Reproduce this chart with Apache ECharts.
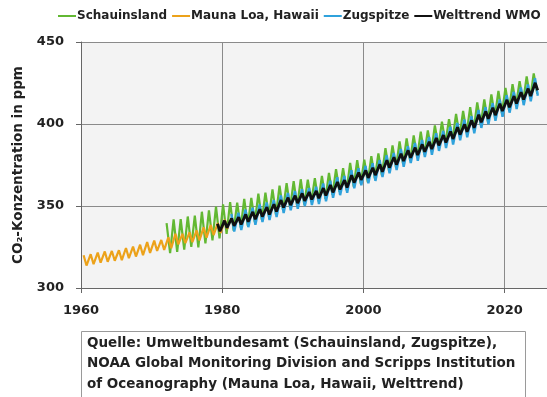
<!DOCTYPE html>
<html>
<head>
<meta charset="utf-8">
<style>
  html, body { margin: 0; padding: 0; background: #ffffff; }
  #chart { width: 547px; height: 397px; }
</style>
<script src="https://cdn.jsdelivr.net/npm/echarts@6/dist/echarts.min.js"></script>
</head>
<body>
<div id="chart"></div>
<script>
// CO2 concentration (ppm): yearly seasonal maxima and minima per station

const seriesNames = ['Schauinsland', 'Mauna Loa, Hawaii', 'Zugspitze', 'Welttrend WMO'];

const xTicks = [1960, 1980, 2000, 2020];
const yTicks = [300, 350, 400, 450];

// Mauna Loa, 1960–1980 (max in May, min in October)
const maunaLoaStart = 1960;
const maunaLoaMax = [320.0, 320.6, 321.6, 322.3, 322.6, 323.0, 324.4, 325.2, 326.4, 328.0, 328.9,
  329.3, 330.9, 333.1, 333.0, 333.9, 335.1, 337.0, 338.4, 339.6, 341.5];
const maunaLoaMin = [313.7, 314.5, 315.4, 316.0, 316.6, 317.0, 318.2, 319.2, 320.0, 321.4, 322.6,
  323.2, 324.2, 326.6, 327.3, 328.0, 329.0, 330.7, 332.3, 333.6, 335.9];

// Schauinsland, 1972–2024 (max in winter, min in late summer)
const schauinslandStart = 1972;
const schauinslandMax = [339.5, 341.8, 342.0, 343.6, 344.2, 346.5, 347.3, 349.6, 351.0, 352.4,
  352.1, 354.3, 355.0, 357.6, 358.2, 360.1, 362.4, 364.0, 365.2, 366.3, 366.1, 367.0, 368.4,
  370.2, 372.5, 373.1, 376.3, 378.0, 378.2, 380.4, 382.1, 385.3, 387.0, 389.4, 391.2, 393.0,
  395.3, 396.1, 399.2, 401.4, 403.0, 406.1, 408.0, 410.3, 413.2, 415.0, 418.1, 420.2, 422.0,
  424.3, 426.1, 429.0, 430.8];
const schauinslandMin = [321.2, 322.0, 323.4, 325.1, 324.8, 327.2, 329.0, 330.3, 333.0, 335.0,
  336.8, 338.0, 340.2, 341.6, 343.5, 344.6, 347.4, 348.8, 349.6, 350.9, 352.6, 352.8, 354.4,
  356.8, 358.6, 359.5, 361.8, 363.6, 364.5, 366.8, 368.5, 371.6, 373.5, 375.7, 377.5, 379.6,
  381.5, 383.6, 386.4, 388.5, 390.5, 392.7, 394.5, 396.6, 399.5, 401.6, 404.5, 406.6, 408.5,
  411.6, 413.5, 415.6, 418.4];

// Zugspitze, 1981–2024 (max in spring, min in September)
const zugspitzeStart = 1981;
const zugspitzeMax = [345.1, 345.9, 347.8, 349.0, 350.9, 352.2, 353.6, 356.5, 357.9, 359.1,
  360.2, 361.0, 361.8, 363.7, 365.4, 367.5, 368.4, 371.8, 373.0, 374.5, 376.1, 378.0, 380.9,
  382.3, 384.8, 386.5, 388.4, 390.2, 392.1, 394.4, 395.7, 398.3, 400.6, 402.7, 404.8, 408.6,
  410.3, 412.7, 415.0, 417.6, 419.6, 422.3, 424.1, 427.9];
const zugspitzeMin = [334.4, 335.3, 337.1, 338.5, 340.2, 341.4, 343.3, 345.7, 347.4, 348.3,
  350.0, 350.6, 351.2, 352.9, 355.0, 356.6, 358.0, 360.8, 362.6, 363.8, 365.3, 367.7, 369.9,
  371.9, 373.9, 376.2, 377.6, 379.9, 381.2, 383.6, 385.3, 387.5, 390.1, 391.9, 394.3, 397.6,
  399.8, 402.0, 404.4, 406.9, 409.1, 411.5, 413.8, 417.2];

// WMO global trend, 1979–2024
const wmoStart = 1979;
const wmoMax = [339.2, 341.1, 342.4, 343.2, 344.9, 346.4, 348.0, 349.3, 351.1, 353.6, 355.1,
  356.3, 357.7, 358.5, 359.2, 360.9, 362.8, 364.6, 365.8, 368.8, 370.4, 371.7, 373.3, 375.4,
  377.9, 379.7, 381.9, 383.9, 385.6, 387.6, 389.2, 391.5, 393.2, 395.4, 398.0, 399.8, 402.2,
  405.6, 407.7, 409.9, 412.4, 414.7, 417.0, 419.4, 421.6, 425.1];
const wmoMin = [334.6, 336.7, 337.9, 338.7, 340.4, 341.9, 343.5, 344.8, 346.6, 349.1, 350.6,
  351.8, 353.2, 354.0, 354.7, 356.4, 358.3, 360.1, 361.3, 364.3, 365.9, 367.2, 368.8, 370.9,
  373.4, 375.2, 377.4, 379.4, 381.1, 383.1, 384.7, 387.0, 388.7, 390.9, 393.5, 395.3, 397.7,
  401.1, 403.2, 405.4, 407.9, 410.2, 412.5, 414.9, 417.1, 420.6];

// time of year (fraction) at which the seasonal max / min occurs
function seasonal(start, maxima, minima, tMax, tMin) {
  const out = [];
  for (let i = 0; i < maxima.length; i++) {
    const pts = [[start + i + tMax, maxima[i]], [start + i + tMin, minima[i]]];
    pts.sort((a, b) => a[0] - b[0]);
    out.push(pts[0], pts[1]);
  }
  return out;
}

const colors = ['#62b832', '#eca21a', '#2fa2dc', '#111111'];
const font = '"DejaVu Sans", Roboto, sans-serif';

const chart = echarts.init(document.getElementById('chart'), null, { renderer: 'canvas' });

function lineSeries(name, data, color, width, z) {
  return {
    name, type: 'line', data, symbol: 'none', z,
    lineStyle: { color, width }, itemStyle: { color },
    animation: false
  };
}

chart.setOption({
  backgroundColor: '#ffffff',
  animation: false,
  legend: {
    data: seriesNames,
    top: 10, left: 58, width: 620, padding: 0,
    icon: 'rect', itemWidth: 18, itemHeight: 2, itemGap: 5,
    textStyle: { fontFamily: font, fontWeight: 'bold', fontSize: 12, color: '#222', padding: [0, 0, 0, -4] }
  },
  grid: { left: 81, top: 42, width: 467, height: 246, show: true, backgroundColor: '#f3f3f3', borderWidth: 0 },
  xAxis: {
    type: 'value', min: 1960, max: 2026, interval: 20,
    axisLine: { show: true, lineStyle: { color: '#666', width: 1 } },
    axisTick: { show: true, length: 5, lineStyle: { color: '#666' } },
    splitLine: { show: true, lineStyle: { color: '#8a8a8a', width: 1 } },
    axisLabel: {
      showMaxLabel: false, margin: 16,
      fontFamily: font, fontWeight: 'bold', fontSize: 13, color: '#222',
      formatter: v => (xTicks.includes(v) ? String(v) : '')
    }
  },
  yAxis: {
    type: 'value', min: 300, max: 450, interval: 50,
    name: 'CO₂-Konzentration in ppm', nameLocation: 'middle', nameGap: 56,
    nameTextStyle: { fontFamily: font, fontWeight: 'bold', fontSize: 13.5, color: '#222' },
    axisLine: { show: true, lineStyle: { color: '#666', width: 1 } },
    axisTick: { show: true, length: 5, lineStyle: { color: '#666' } },
    splitLine: { show: true, lineStyle: { color: '#8a8a8a', width: 1 } },
    axisLabel: {
      margin: 17, fontFamily: font, fontWeight: 'bold', fontSize: 13, color: '#222',
      formatter: v => (yTicks.includes(v) ? String(v) : '')
    }
  },
  series: [
    lineSeries(seriesNames[0], seasonal(schauinslandStart, schauinslandMax, schauinslandMin, 0.12, 0.62), colors[0], 2.2, 1),
    lineSeries(seriesNames[1], seasonal(maunaLoaStart, maunaLoaMax, maunaLoaMin, 0.37, 0.78), colors[1], 2.2, 2),
    lineSeries(seriesNames[2], seasonal(zugspitzeStart, zugspitzeMax, zugspitzeMin, 0.30, 0.70), colors[2], 2.4, 3),
    lineSeries(seriesNames[3], seasonal(wmoStart, wmoMax, wmoMin, 0.33, 0.68), colors[3], 2.8, 4)
  ],
  graphic: [
    {
      type: 'rect', left: 81, top: 331, z: 10,
      shape: { width: 444, height: 80 },
      style: { fill: '#ffffff', stroke: '#9a9a9a', lineWidth: 1 }
    },
    {
      type: 'text', left: 87, top: 333, z: 11,
      style: {
        text: 'Quelle: Umweltbundesamt (Schauinsland, Zugspitze),\nNOAA Global Monitoring Division and Scripps Institution\nof Oceanography (Mauna Loa, Hawaii, Welttrend)',
        fontFamily: font, fontWeight: 'bold', fontSize: 13.5, lineHeight: 20.5, fill: '#222'
      }
    }
  ]
});
</script>
</body>
</html>
